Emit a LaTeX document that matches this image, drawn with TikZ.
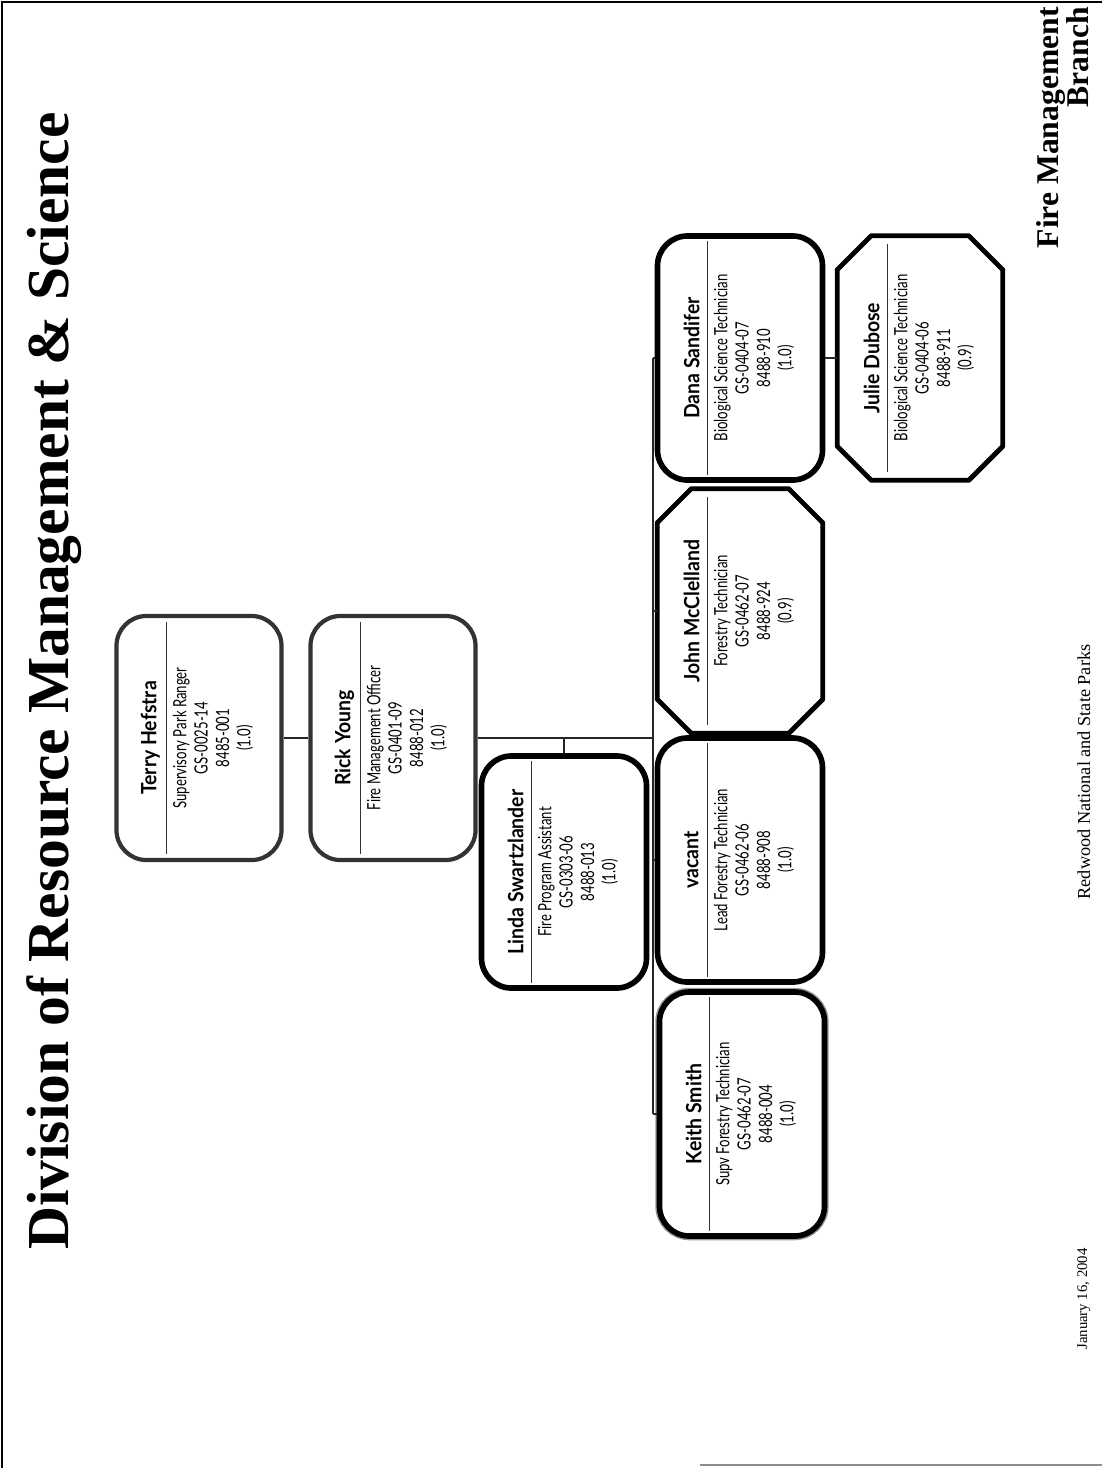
\documentclass[tikz,border=0pt]{standalone}
\usepackage{fontspec}
\setmainfont{Liberation Serif}
\newfontfamily\cardfont[FakeStretch=0.72]{Lato}
\newfontfamily\cardname[FakeStretch=0.92]{Lato}
\usetikzlibrary{calc}

\tikzset{
  card/.style={minimum width=4.125cm, minimum height=6.1cm, inner sep=0pt},
  softcard/.style={card, fill=white, draw=black!80, line width=3pt, rounded corners=0.75cm},
  boldcard/.style={card, fill=white, draw=black, line width=4pt, rounded corners=0.75cm},
  halocard/.style={boldcard, preaction={draw=black!40, line width=6pt}},
  octcard/.style={card, draw=none},
  octline/.style={draw=black, line width=3.4pt, line join=round},
  sepline/.style={black!80, line width=0.6pt},
  nametext/.style={rotate=90, inner sep=0pt, font=\cardname\bfseries\fontsize{15}{17}\selectfont},
  infotext/.style={rotate=90, inner sep=0pt, align=center, font=\cardfont\fontsize{13}{15.2}\selectfont},
  link/.style={black!85, line width=0.8pt},
  pagetext/.style={rotate=90, inner sep=0pt},
}

% one position card: node name, style, centre x, centre y, person, title, grade, number, FTE
\newcommand\staff[9]{%
  \node[#2] (#1) at (#3,#4) {};
  \draw[sepline] ($(#1.north)+(-32.5,8)$) -- ($(#1.south)+(-32.5,-8)$);
  \node[nametext] (#1-name) at (#3-48.5,#4) {#5};
  \node[infotext] (#1-info) at (#3+14,#4) {#6\\#7\\#8\\#9};
}

% chamfered outline around an (invisible) card node
\newcommand\octframe[1]{%
  \draw[octline] ([xshift=0.85cm]#1.north west) -- ([xshift=-0.85cm]#1.north east)
    -- ([yshift=-0.85cm]#1.north east) -- ([yshift=0.85cm]#1.south east)
    -- ([xshift=-0.85cm]#1.south east) -- ([xshift=0.85cm]#1.south west)
    -- ([yshift=0.85cm]#1.south west) -- ([yshift=-0.85cm]#1.north west) -- cycle;
}

\begin{document}
\begin{tikzpicture}[x=0.025cm, y=-0.025cm]
\useasboundingbox (0,0) rectangle (1102,1468);

% page frame
\draw[line width=1.2pt] (2,1468) -- (2,2) -- (1102,2);
\draw[black!45, line width=1.5pt] (700,1465) -- (1102,1465);

% heading and footer
\node[pagetext, anchor=base] (title) at (68,681)
  {\resizebox{28.43cm}{!}{\bfseries Division of Resource Management \& Science}};
\node[pagetext, anchor=base east, font=\bfseries\fontsize{22.5}{24}\selectfont] (branch1) at (1058,7) {Fire Management};
\node[pagetext, anchor=base east, font=\bfseries\fontsize{22.5}{24}\selectfont] (branch2) at (1088,7) {Branch};
\node[pagetext, anchor=base, font=\fontsize{13}{15}\selectfont] (parks) at (1090,772) {Redwood National and State Parks};
\node[pagetext, anchor=base, font=\fontsize{10.5}{12}\selectfont] (date) at (1087,1299) {January 16, 2004};

% cards
\staff{terry}{softcard}{199}{738}{Terry Hefstra}{Supervisory Park Ranger}{GS-0025-14}{8485-001}{(1.0)}
\staff{rick}{softcard}{393}{738}{Rick Young}{Fire Management Officer}{GS-0401-09}{8488-012}{(1.0)}
\staff{linda}{boldcard, minimum height=5.8cm}{564}{872}{Linda Swartzlander}{Fire Program Assistant}{GS-0303-06}{8488-013}{(1.0)}
\staff{dana}{boldcard}{740}{358}{Dana Sandifer}{Biological Science Technician}{GS-0404-07}{8488-910}{(1.0)}
\staff{john}{octcard}{740}{611}{John McClelland}{Forestry Technician}{GS-0462-07}{8488-924}{(0.9)}
\staff{vacant}{boldcard}{740}{860}{vacant}{Lead Forestry Technician}{GS-0462-06}{8488-908}{(1.0)}
\staff{keith}{halocard}{742}{1114}{Keith Smith}{Supv Forestry Technician}{GS-0462-07}{8488-004}{(1.0)}
\staff{julie}{octcard}{920}{358}{Julie Dubose}{Biological Science Technician}{GS-0404-06}{8488-911}{(0.9)}
\octframe{john}
\octframe{julie}

% reporting lines
\coordinate (busx) at (653,0);
\draw[link] (terry.east) -- (rick.west);
\draw[link] (rick.east) -- (rick.east -| busx);
\draw[link] (linda.north) -- (linda.north |- rick.east);
\draw[link] (dana.west -| busx) -- (keith.west -| busx);
\foreach \n in {dana,john,vacant,keith}
  \draw[link] (\n.west -| busx) -- (\n.west);
\draw[link] (dana.east) -- (julie.west);
\end{tikzpicture}
\end{document}
